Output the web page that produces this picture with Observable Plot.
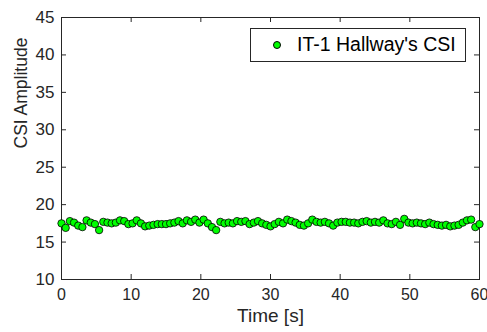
<!DOCTYPE html>
<html>
<head>
<meta charset="utf-8">
<script src="https://cdn.jsdelivr.net/npm/d3@7"></script>
<script src="https://cdn.jsdelivr.net/npm/@observablehq/plot@0.6"></script>
<style>
  body { margin: 0; background: #fff; }
  #wrap { position: relative; width: 487px; height: 332px; font-family: "Liberation Sans", Arial, sans-serif; }
  #legend { position: absolute; left: 250px; top: 28px; width: 216px; height: 34px; border: 1px solid #262626; background: #fff; box-sizing: border-box; }
  #legend .dot { position: absolute; left: 22px; top: 12px; width: 8px; height: 8px; border-radius: 50%; background: #00ff00; border: 1px solid #000; box-sizing: border-box; }
  #legend .lab { position: absolute; left: 46px; top: 4px; font-size: 19.5px; color: #000; white-space: nowrap; }
</style>
</head>
<body>
<div id="wrap">
  <div id="chart"></div>
  <div id="legend"><div class="dot"></div><div class="lab">IT-1 Hallway's CSI</div></div>
</div>
<script>
const seriesName = "IT-1 Hallway's CSI";
const times = [0,0.6,1.2,1.8,2.4,3,3.6,4.2,4.8,5.4,6,6.6,7.2,7.8,8.4,9,9.6,10.2,10.8,11.4,12,12.6,13.2,13.8,14.4,15,15.6,16.2,16.8,17.4,18,18.6,19.2,19.8,20.4,21,21.6,22.2,22.8,23.4,24,24.6,25.2,25.8,26.4,27,27.6,28.2,28.8,29.4,30,30.6,31.2,31.8,32.4,33,33.6,34.2,34.8,35.4,36,36.6,37.2,37.8,38.4,39,39.6,40.2,40.8,41.4,42,42.6,43.2,43.8,44.4,45,45.6,46.2,46.8,47.4,48,48.6,49.2,49.8,50.4,51,51.6,52.2,52.8,53.4,54,54.6,55.2,55.8,56.4,57,57.6,58.2,58.8,59.4,60];
const amplitudes = [17.5,16.9,17.8,17.6,17.2,17.0,17.9,17.6,17.4,16.6,17.7,17.6,17.5,17.6,17.9,17.8,17.4,17.5,17.9,17.5,17.1,17.2,17.3,17.4,17.4,17.4,17.5,17.6,17.8,17.5,17.9,17.7,18.0,17.6,18.0,17.5,17.0,16.6,17.7,17.5,17.6,17.5,17.8,17.7,17.8,17.4,17.6,17.8,17.5,17.3,17.1,17.4,17.7,17.5,18.0,17.8,17.6,17.3,17.2,17.5,18.0,17.7,17.6,17.7,17.5,17.2,17.6,17.7,17.7,17.6,17.6,17.5,17.7,17.8,17.6,17.7,17.6,17.9,17.5,17.4,17.7,17.3,18.1,17.6,17.5,17.6,17.5,17.4,17.6,17.4,17.3,17.2,17.3,17.1,17.2,17.3,17.6,17.9,18.0,17.0,17.4];
const xTicks = [0,10,20,30,40,50,60];
const yTicks = [10,15,20,25,30,35,40,45];

const data = times.map((t, i) => ({t, v: amplitudes[i]}));

const W = 487, H = 332, mL = 61, mR = 8, mT = 17, mB = 53;
const pw = W - mL - mR, ph = H - mT - mB;
const ink = "#262626";

const chart = Plot.plot({
  width: W, height: H,
  marginLeft: mL, marginRight: mR, marginTop: mT, marginBottom: mB,
  style: {fontFamily: "'Liberation Sans', Arial, sans-serif", fontSize: "16px", color: ink, background: "#fff"},
  x: {domain: [0, 60]},
  y: {domain: [10, 45]},
  marks: [
    Plot.frame({stroke: ink, strokeWidth: 1}),
    Plot.tickX(xTicks, {x: d => d, insetTop: ph - 5, stroke: ink}),
    Plot.tickX(xTicks, {x: d => d, insetBottom: ph - 5, stroke: ink}),
    Plot.tickY(yTicks, {y: d => d, insetRight: pw - 5, stroke: ink}),
    Plot.tickY(yTicks, {y: d => d, insetLeft: pw - 5, stroke: ink}),
    Plot.axisX({ticks: xTicks, tickSize: 0, tickPadding: 9, label: null, fontSize: 16, fill: ink}),
    Plot.axisY({ticks: yTicks, tickSize: 0, tickPadding: 7, label: null, fontSize: 17, fill: ink}),
    Plot.text(["Time [s]"], {frameAnchor: "bottom", dy: 42, fontSize: 19, fill: ink}),
    Plot.text(["CSI Amplitude"], {frameAnchor: "left", dx: -40, rotate: -90, fontSize: 17.5, fill: ink}),
    Plot.dot(data, {x: "t", y: "v", r: 3.7, fill: "#00ff00", stroke: "#000", strokeWidth: 0.8})
  ]
});
document.getElementById("chart").appendChild(chart);
</script>
</body>
</html>
